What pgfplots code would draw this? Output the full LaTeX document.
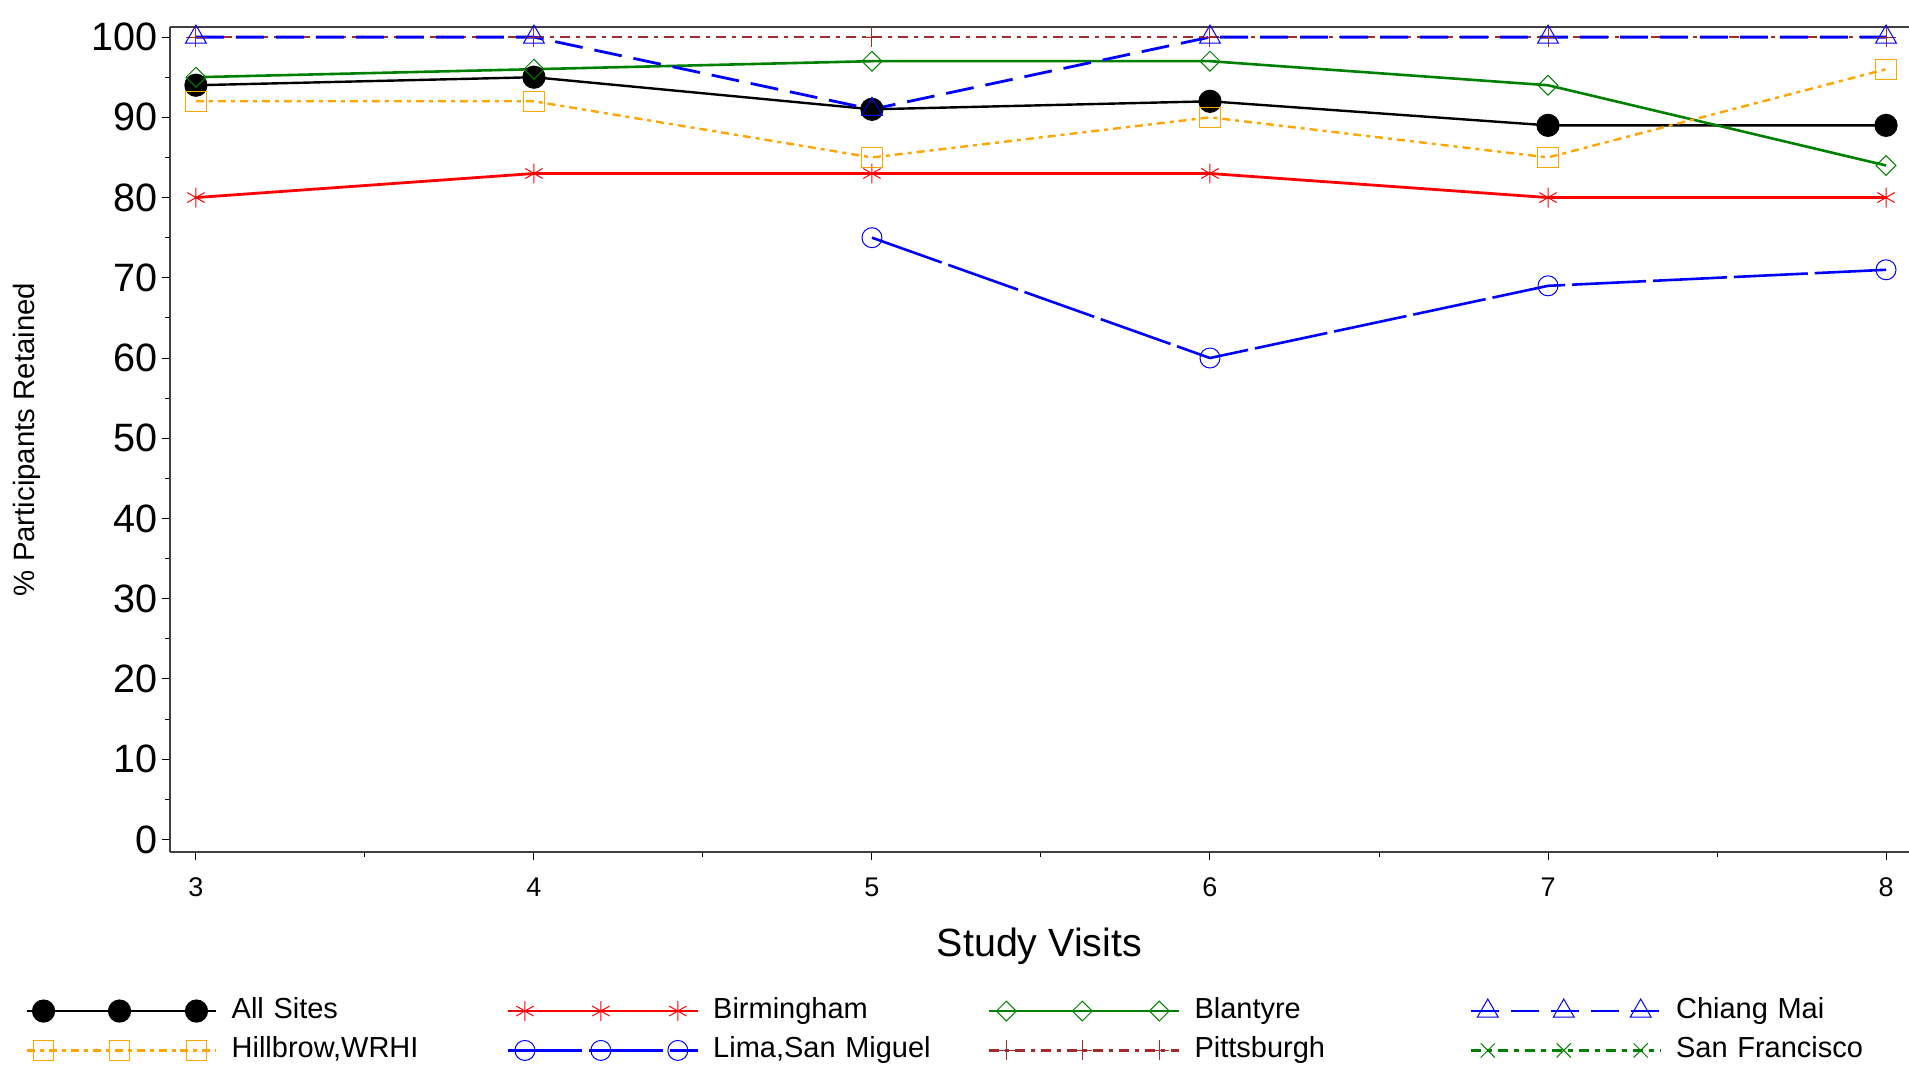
\documentclass[border=0pt]{standalone}
\usepackage{fontspec}
\setmainfont{Liberation Sans}
\usepackage{pgfplots}
\pgfplotsset{compat=1.18}
\usetikzlibrary{calc}

\definecolor{siteorange}{HTML}{FFA500}
\definecolor{sitegreen}{HTML}{008000}
\definecolor{sitebrown}{HTML}{A52A2A}
\definecolor{axgray}{HTML}{404040}

\begin{document}
\begin{tikzpicture}
\begin{axis}[
  name=ax,
  scale only axis,
  width=869.5pt, height=413pt,
  xmin=2.923, xmax=8.068,
  ymin=-1.6, ymax=101.3,
  axis x line=box, axis y line*=left,
  axis line style={axgray, line width=0.9pt},
  xtick={3,4,5,6,7,8}, minor x tick num=1,
  ytick={0,10,...,100}, minor y tick num=1,
  xtick pos=bottom, ytick pos=left,
  tick align=outside,
  major tick length=4pt, minor tick length=2.3pt,
  tick style={black, line width=0.5pt},
  /pgf/number format/assume math mode=true,
  xticklabel style={font=\fontsize{13.5}{16}\selectfont, anchor=base, yshift=-18pt},
  yticklabel style={font=\fontsize{19.8}{23}\selectfont, anchor=east, xshift=1.5pt},
  xlabel={Study Visits},
  ylabel={\% Participants Retained},
  every axis x label/.style={at={([yshift=-52pt]axis description cs:0.5,0)}, anchor=base, font=\fontsize{19.7}{23}\selectfont},
  every axis y label/.style={at={([xshift=-71.5pt]axis description cs:0,0.5)}, rotate=90, anchor=center, font=\fontsize{14.7}{17}\selectfont},
  legend image code/.code={
    \draw[mark indices={2,3,4},#1] plot coordinates {(0pt,0pt) (8.5pt,0pt) (46.5pt,0pt) (85pt,0pt) (95pt,0pt)};
  },
  legend columns=4,
  legend cell align=left,
  legend style={at={([xshift=-72.5pt,yshift=-72.5pt]axis description cs:0,0)}, anchor=north west,
    draw=none, fill=none, inner sep=0pt, row sep=6.2pt,
    font=\fontsize{14.5}{17}\selectfont,
    /tikz/every odd column/.style={column sep=7pt},
    /tikz/every even column/.style={column sep=0pt},
    nodes={inner sep=0pt, text width=137.5pt, text height=10.5pt, text depth=3pt, align=left}},
]
% All Sites
\addplot[black, line width=1.2pt, mark=*, mark size=5.2pt, mark options={solid}]
  coordinates {(3,94) (4,95) (5,91) (6,92) (7,89) (8,89)};
\addlegendentry{All Sites}
% Birmingham
\addplot[red, line width=1.4pt, mark=asterisk, mark size=5pt, mark options={solid, line width=0.5pt}]
  coordinates {(3,80) (4,83) (5,83) (6,83) (7,80) (8,80)};
\addlegendentry{Birmingham}
% Blantyre
\addplot[sitegreen, line width=1.3pt, mark=square, mark size=3.5pt, mark options={solid, rotate=45, line width=0.5pt}]
  coordinates {(3,95) (4,96) (5,97) (6,97) (7,94) (8,84)};
\addlegendentry{Blantyre}
% Pittsburgh (drawn under Chiang Mai, legend entry later)
\addplot[sitebrown, line width=1.2pt, dash pattern=on 5pt off 3pt on 2pt off 3pt, mark=+, mark size=5pt, mark options={solid, line width=0.5pt}, forget plot]
  coordinates {(3,100) (4,100) (5,100) (6,100) (7,100) (8,100)};
% Chiang Mai
\addplot[blue, line width=1.4pt, dash pattern=on 14pt off 6pt, mark=triangle, mark size=6pt, mark options={solid, line width=0.5pt}]
  coordinates {(3,100) (4,100) (5,91) (6,100) (7,100) (8,100)};
\addlegendentry{Chiang Mai}
% Hillbrow, WRHI
\addplot[siteorange, line width=1.2pt, dash pattern=on 4pt off 2.5pt on 2pt off 2.5pt, mark=square, mark size=5.1pt, mark options={solid, line width=0.5pt}]
  coordinates {(3,92) (4,92) (5,85) (6,90) (7,85) (8,96)};
\addlegendentry{Hillbrow,WRHI}
% Lima, San Miguel
\addplot[blue, line width=1.3pt, dash pattern=on 37pt off 3.5pt, mark=o, mark size=5pt, mark options={solid, line width=0.5pt}]
  coordinates {(5,75) (6,60) (7,69) (8,71)};
\addlegendentry{Lima,San Miguel}
% Pittsburgh legend
\addlegendimage{sitebrown, line width=1.2pt, dash pattern=on 5pt off 3pt on 2pt off 3pt, mark=+, mark size=5pt, mark options={solid, line width=0.5pt}}
\addlegendentry{Pittsburgh}
% San Francisco (no points drawn)
\addlegendimage{sitegreen, line width=1.2pt, dash pattern=on 5pt off 3pt on 2.5pt off 3pt, mark=x, mark size=5pt, mark options={solid, line width=0.5pt}}
\addlegendentry{San Francisco}
\end{axis}
\pgfresetboundingbox
\path[use as bounding box] ($(ax.south west)+(-85pt,-106pt)$) rectangle ($(ax.north east)+(0pt,13.35pt)$);
\end{tikzpicture}
\end{document}
